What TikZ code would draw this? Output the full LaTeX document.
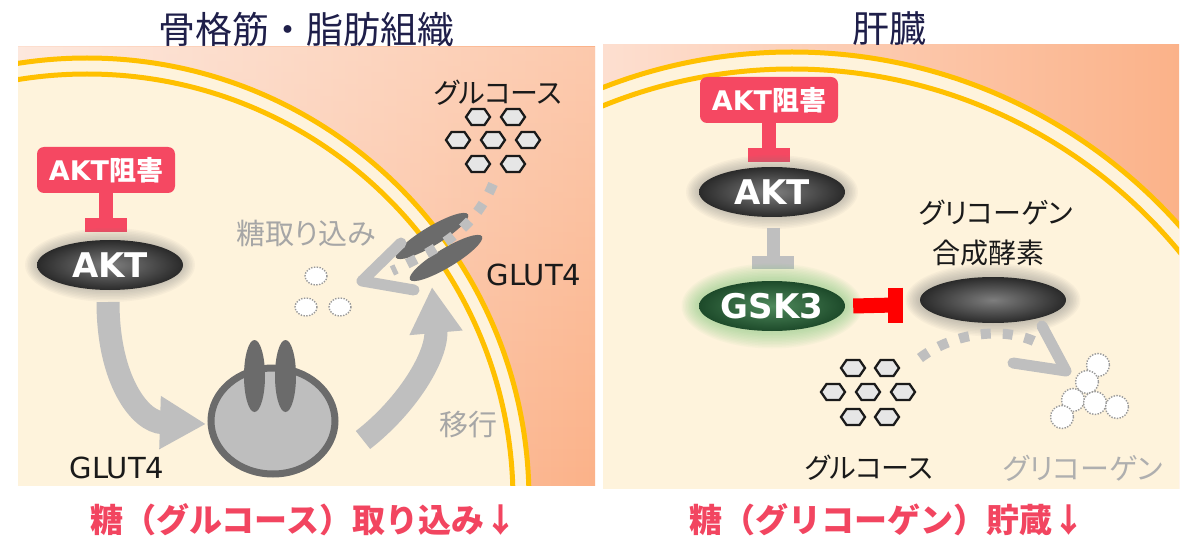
\documentclass[tikz,border=0pt]{standalone}
\usepackage{fontspec}
\setmainfont{Noto Sans CJK JP}
\newfontfamily\kanafont{Noto Sans CJK JP}[RawFeature=+palt]
\newfontfamily\latinfont{DejaVu Sans}
\usetikzlibrary{shapes.geometric,arrows.meta,fadings}
\newcommand\pxsize[1]{\fontsize{#1pt}{#1pt}\selectfont}
% soft halo: centre, x radius, y radius, colour, steps
\newcommand\halo[5]{%
  \foreach \k in {1,...,#5}{%
    \fill[#4, opacity=0.055] (#1) ellipse [x radius={#2+\k*1.5}, y radius={#3+\k*1.5}];}}

\definecolor{membrane}{HTML}{FFC000}
\definecolor{cyto}{HTML}{FEF3DC}
\definecolor{bgL}{HTML}{FDDFD0}
\definecolor{bgR}{HTML}{FBB289}
\definecolor{inhib}{HTML}{F54862}
\definecolor{labelred}{HTML}{F24560}
\definecolor{arrowgray}{HTML}{BFBFBF}
\definecolor{textgray}{HTML}{A6A6A6}
\definecolor{protein}{HTML}{6B6B6B}
\definecolor{vesfill}{HTML}{BEBEBE}
\definecolor{navy}{HTML}{1F1F4A}
\definecolor{inkblack}{HTML}{1A1A1A}
\definecolor{gcore}{HTML}{7E7E7E}
\definecolor{gedge}{HTML}{2A2A2A}
\definecolor{greencore}{HTML}{4F8A5C}
\definecolor{greenedge}{HTML}{1D4A2A}
\definecolor{greenglow}{HTML}{7CC87A}
\definecolor{hexfill}{HTML}{E6E6E6}

\begin{document}
\begin{tikzpicture}[x=1pt, y=-1pt,
  titletext/.style={text=navy, font=\pxsize{37}, inner sep=0pt},
  resulttext/.style={text=labelred, font=\bfseries\pxsize{33}, inner sep=0pt},
  inhibbox/.style={fill=inhib, rounded corners=7pt, minimum width=138pt,
    minimum height=46pt, text=white, font=\bfseries\pxsize{27}, inner sep=0pt},
  inhibline/.style={draw=inhib, line width=14pt},
  grayT/.style={draw=arrowgray, line width=13pt},
  redT/.style={draw=red, line width=15pt},
  enzyme/.style={ellipse, minimum width=146pt, minimum height=50pt, inner sep=0pt,
    text=white, font=\latinfont\bfseries\pxsize{34}},
  graybody/.style={enzyme, inner color=gcore, outer color=gedge},
  greenbody/.style={enzyme, inner color=greencore, outer color=greenedge},
  glut/.style={ellipse, fill=protein, inner sep=0pt},
  blacklabel/.style={text=inkblack, font=\kanafont\pxsize{28}, inner sep=0pt},
  graylabel/.style={text=textgray, font=\kanafont\pxsize{29}, inner sep=0pt},
  latinlabel/.style={text=inkblack, font=\latinfont\pxsize{29}, inner sep=0pt},
  bigarrow/.style={draw=arrowgray, line width=23pt, -{Triangle[length=46pt,width=50pt]}},
  dotflow/.style={draw=arrowgray, line width=10pt, dash pattern=on 10pt off 12pt},
  chevron/.style={draw=arrowgray, line width=11pt, line cap=round, line join=round},
  hexa/.style={fill=hexfill, draw=inkblack, line width=2.3pt},
  bubble/.style={fill=white, draw=gray!80, line width=1.4pt, dash pattern=on 1.4pt off 1.4pt},
  hexpic/.pic={\draw[hexa] (-12,0) -- (-6.5,-8) -- (6.5,-8) -- (12,0) -- (6.5,8) -- (-6.5,8) -- cycle;}
]
\useasboundingbox (0,0) rectangle (1189,540);
\fill[white] (0,0) rectangle (1189,540);

% ---------- muscle / adipose cell ----------
\begin{scope}
  \clip (18,47) rectangle (595,485);
  \shade[left color=bgL, right color=bgR] (18,47) rectangle (595,485);
  \fill[white, path fading=south, fill opacity=0.3] (18,47) rectangle (595,485);
  \fill[cyto] (87,500) circle [radius=442];
  \draw[membrane, line width=5pt] (87,500) circle [radius=442];
  \draw[membrane, line width=5pt] (87,500) circle [radius=426];
\end{scope}

% ---------- liver cell ----------
\begin{scope}
  \clip (603,45) rectangle (1179,488);
  \shade[left color=bgL, right color=bgR] (603,45) rectangle (1179,488);
  \fill[cyto] (792,571) circle [radius=519];
  \draw[membrane, line width=5pt] (792,571) circle [radius=519];
  \draw[membrane, line width=5pt] (792,571) circle [radius=502];
\end{scope}

% ---------- headings and results ----------
\node[titletext] (ttlL) at (306,29) {骨格筋・脂肪組織};
\node[titletext] (ttlR) at (889,29) {肝臓};
\node[resulttext] (resL) at (304,520) {糖（グルコース）取り込み↓};
\node[resulttext] (resR) at (887,520) {糖（グリコーゲン）貯蔵↓};

% ---------- left: AKT inhibition ----------
\node[inhibbox] (inhL) at (106,170) {{\latinfont AKT}阻害};
\coordinate (barL) at (106,225);
\draw[inhibline] (inhL.south) -- (barL);
\draw[inhibline] ([xshift=-21pt]barL) -- ([xshift=21pt]barL);

\coordinate (aktLc) at (110,265);
\halo{aktLc}{73}{25}{gray}{8}
\node[graybody] (aktL) at (aktLc) {AKT};

% translocation arrows
\coordinate (a1s) at (108,302);
\coordinate (a1e) at (206,424);
\draw[bigarrow] (a1s) .. controls (108,380) and (140,422) .. (a1e);
\coordinate (a2s) at (363,440);
\coordinate (a2e) at (432,287);
\draw[bigarrow] (a2s) .. controls (408,405) and (438,355) .. (a2e);

% storage vesicle with GLUT4
\node[ellipse, draw=protein, line width=7pt, fill=vesfill, minimum width=124pt,
      minimum height=106pt, inner sep=0pt] (ves) at (273,421) {};
\node[glut, minimum width=21pt, minimum height=72pt] (gv1) at (254.5,376) {};
\node[glut, minimum width=21pt, minimum height=72pt] (gv2) at (285.5,376) {};
\node[latinlabel] (glutB) at (117,468) {GLUT4};
\node[graylabel] (transloc) at (468,425) {移行};

% membrane GLUT4 and glucose entry
\node[glut, minimum width=84pt, minimum height=19pt, rotate=31] (gm1) at (432,236) {};
\node[glut, minimum width=84pt, minimum height=19pt, rotate=31] (gm2) at (446,258) {};
\coordinate (flowLs) at (493,184);
\coordinate (flowLe) at (392,271);
\draw[dotflow] (flowLs) .. controls (476,225) and (446,246) .. (flowLe);
\coordinate (chevL) at (362,281);
\draw[chevron] (401,243) -- (chevL) -- (414,290);
\node[latinlabel] (glutT) at (534,275) {GLUT4};
\node[blacklabel] (glcL) at (498,93) {グルコース};
\foreach \x/\y in {478/117, 513/117, 458/140, 493/140, 528/140, 478/164, 513/164}
  \pic at (\x,\y) {hexpic};
\node[graylabel] (uptake) at (306,233) {糖取り込み};
\foreach \x/\y in {316/276, 306/307, 340/307}
  \draw[bubble] (\x,\y) ellipse [x radius=11, y radius=9];

% ---------- right: AKT / GSK3 / glycogen synthase ----------
\node[inhibbox] (inhR) at (769,100) {{\latinfont AKT}阻害};
\coordinate (barR) at (769,155);
\draw[inhibline] (inhR.south) -- (barR);
\draw[inhibline] ([xshift=-21pt]barR) -- ([xshift=21pt]barR);

\coordinate (aktRc) at (772,192);
\halo{aktRc}{74}{25}{gray}{8}
\node[graybody] (aktR) at (aktRc) {AKT};

\coordinate (gtop) at (773,228);
\coordinate (gbar) at (773,263);
\draw[grayT] (gtop) -- (gbar);
\draw[grayT] ([xshift=-21pt]gbar) -- ([xshift=21pt]gbar);

\coordinate (gskc) at (772,306);
\halo{gskc}{74}{26}{greenglow}{11}
\node[greenbody] (gsk) at (gskc) {GSK3};

\coordinate (sync) at (993,300);
\halo{sync}{74}{23}{gray}{9}
\node[graybody, minimum height=46pt] (syn) at (sync) {};
\node[blacklabel, font=\kanafont\pxsize{28}] (synA) at (996,213) {グリコーゲン};
\node[blacklabel, font=\kanafont\pxsize{28}] (synB) at (988,253) {合成酵素};

\coordinate (rbar) at (895,305);
\draw[redT] (gsk.east) ++(8pt,0) coordinate (rstart) (rstart) -- (rbar);
\draw[redT] ([yshift=17.5pt]rbar) -- ([yshift=-17.5pt]rbar);

% glucose to glycogen
\foreach \x/\y in {853/368, 887/368, 833/392, 868/392, 903/392, 853/417, 887/417}
  \pic at (\x,\y) {hexpic};
\node[blacklabel] (glcR) at (869,468) {グルコース};
\coordinate (flowRs) at (920,358);
\coordinate (flowRe) at (1036,342);
\draw[dotflow] (flowRs) .. controls (950,335) and (1000,325) .. (flowRe);
\coordinate (chevR) at (1066,371);
\draw[chevron] (1013,363) -- (chevR) -- (1042,326);
\foreach \x/\y in {1098/365, 1087/382, 1073/400, 1095/403, 1117/407, 1062/417}
  \draw[bubble] (\x,\y) circle [radius=11.5];
\node[graylabel, text=textgray!90] (glyR) at (1083,468) {グリコーゲン};
\end{tikzpicture}
\end{document}
